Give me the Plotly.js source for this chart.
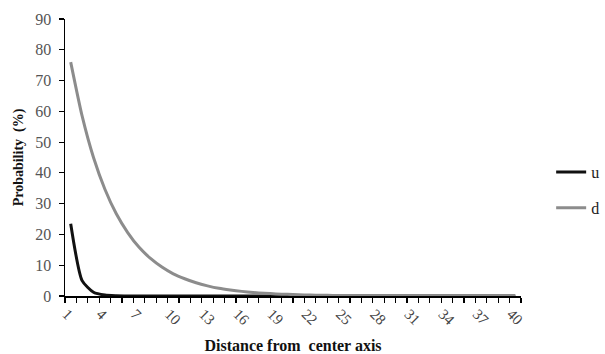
<!DOCTYPE html>
<html>
<head>
<meta charset="utf-8">
<script src="https://cdn.plot.ly/plotly-3.0.1.min.js"></script>
<style>html,body{margin:0;padding:0;background:#fff;}#chart{width:605px;height:354px;}</style>
</head>
<body>
<div id="chart"></div>
<script>
const distance = [1,2,3,4,5,6,7,8,9,10,11,12,13,14,15,16,17,18,19,20,21,22,23,24,25,26,27,28,29,30,31,32,33,34,35,36,37,38,39,40];
const uValues = [23.5,5.0,1.2,0.3,0.1,0.04,0.02,0.01,0,0,0,0,0,0,0,0,0,0,0,0,0,0,0,0,0,0,0,0,0,0,0,0,0,0,0,0,0,0,0,0];
const dValues = [76,58.5,45,34.7,26.7,20.6,15.8,12.2,9.4,7.2,5.6,4.3,3.3,2.5,1.95,1.5,1.15,0.89,0.68,0.53,0.4,0.31,0.24,0.19,0.14,0.11,0.09,0.07,0.05,0.04,0.03,0.03,0.02,0.02,0.01,0.01,0.01,0.01,0.01,0.01];
const xTickVals = [1,4,7,10,13,16,19,22,25,28,31,34,37,40];
const xTickText = ["1","4","7","10","13","16","19","22","25","28","31","34","37","40"];
const seriesNames = ["u","d"];

const font = "Liberation Serif, Times New Roman, serif";
const traces = [
  {x: distance, y: uValues, name: seriesNames[0], legendgroup: "g1", mode: "lines", line: {color: "#111111", width: 3, shape: "spline", smoothing: 0.6}},
  {x: distance, y: dValues, name: seriesNames[1], legendgroup: "g2", mode: "lines", line: {color: "#8c8c8c", width: 3, shape: "spline", smoothing: 0.6}}
];
const layout = {
  width: 605, height: 354,
  margin: {l: 65, r: 84, t: 19, b: 58},
  paper_bgcolor: "#fff", plot_bgcolor: "#fff",
  font: {family: font, color: "#444", size: 13},
  showlegend: true,
  legend: {xref: "container", yref: "container", x: 0.911, xanchor: "left", y: 0.463, yanchor: "middle", font: {family: font, size: 16, color: "#222"}, tracegroupgap: 12, itemwidth: 30, borderwidth: 0},
  xaxis: {
    range: [0.5, 40.5], showgrid: false, zeroline: false,
    showline: true, linecolor: "#000", linewidth: 1.5,
    tickmode: "array", tickvals: xTickVals, ticktext: xTickText,
    ticks: "", tickangle: 45, tickfont: {family: font, size: 15, color: "#444"},
    ticklabelshift: -4, ticklabelstandoff: 2,
    minor: {tick0: 0.5, dtick: 1, ticks: "outside", ticklen: 5, tickcolor: "#000", tickwidth: 1.2, showgrid: false},
    title: {text: "<b>Distance from  center axis</b>", font: {family: font, size: 16, color: "#111"}, standoff: 12}
  },
  yaxis: {
    range: [0, 90], dtick: 10, showgrid: false, zeroline: false,
    showline: true, linecolor: "#000", linewidth: 1.5,
    ticks: "outside", ticklen: 5, tickcolor: "#000", tickwidth: 1.2,
    tickfont: {family: font, size: 16, color: "#555"}, ticklabelstandoff: 4,
    title: {text: "<b>Probability  (%)</b>", font: {family: font, size: 14, color: "#111"}, standoff: 8}
  }
};
Plotly.newPlot("chart", traces, layout, {displayModeBar: false, staticPlot: true});
</script>
</body>
</html>
